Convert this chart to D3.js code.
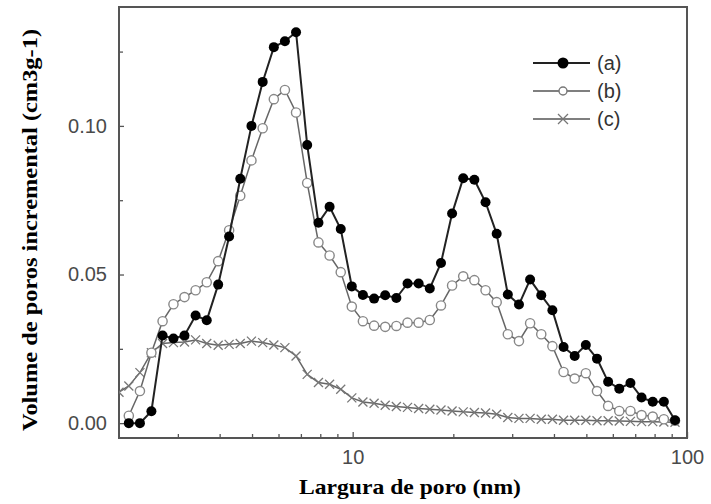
<!DOCTYPE html>
<meta charset="utf-8">
<style>
  body { margin: 0; background: #fff; }
  .tick text { font-family: Arial, "Liberation Sans", sans-serif; fill: #4a4a4a; }
  .tick line { stroke: #555; stroke-width: 1.3; }
</style>
<body>
<script src="https://cdn.jsdelivr.net/npm/d3@7"></script>
<script>

    var width = 711,
        height = 504;

    // pore width (nm), shared by the three samples
    var poreWidth = [2.00, 2.14, 2.31, 2.50, 2.70, 2.91, 3.14, 3.39, 3.66, 3.96, 4.27,
        4.61, 4.98, 5.38, 5.81, 6.27, 6.77, 7.31, 7.90, 8.53, 9.21,
        9.94, 10.73, 11.59, 12.51, 13.51, 14.59, 15.75, 17.01, 18.37, 19.83,
        21.41, 23.12, 24.97, 26.96, 29.11, 31.43, 33.94, 36.65, 39.57, 42.73,
        46.14, 49.82, 53.80, 58.09, 62.72, 67.73, 73.13, 78.97, 85.27, 92.07];

    var seriesA = [null, 0.000, 0.000, 0.004, 0.0295, 0.0285, 0.0295, 0.0362, 0.0346, 0.0466, 0.0628,
        0.0822, 0.100, 0.1148, 0.1265, 0.1285, 0.1315, 0.0936, 0.0674, 0.0728, 0.0653,
        0.046, 0.0431, 0.0419, 0.043, 0.0421, 0.047, 0.047, 0.0453, 0.0539, 0.0705,
        0.0824, 0.0819, 0.0743, 0.0637, 0.0433, 0.0399, 0.0483, 0.043, 0.038, 0.0256,
        0.0226, 0.0263, 0.0217, 0.0139, 0.0116, 0.0135, 0.0086, 0.0072, 0.0072, 0.001];

    var seriesB = [null, 0.0025, 0.0108, 0.0237, 0.0343, 0.040, 0.0424, 0.0447, 0.0474, 0.0545, 0.0649,
        0.0765, 0.0884, 0.0992, 0.109, 0.1121, 0.1045, 0.0808, 0.0608, 0.0564, 0.0508,
        0.0392, 0.0343, 0.0328, 0.0324, 0.0327, 0.0338, 0.0338, 0.0347, 0.0396, 0.0463,
        0.0494, 0.0481, 0.0447, 0.0407, 0.0299, 0.0276, 0.0336, 0.0299, 0.0259, 0.0172,
        0.015, 0.0168, 0.0108, 0.0058, 0.0041, 0.0041, 0.0027, 0.0022, 0.0013, 0.0008];

    var seriesC = [0.0104, 0.0125, 0.017, 0.0237, 0.0268, 0.0271, 0.0273, 0.028, 0.0268, 0.0262, 0.0265,
        0.0268, 0.0276, 0.0271, 0.0263, 0.0254, 0.0226, 0.0164, 0.0137, 0.0131, 0.0114,
        0.0085, 0.0071, 0.0067, 0.006, 0.0056, 0.0053, 0.0049, 0.0047, 0.0044, 0.0041,
        0.0038, 0.0036, 0.0034, 0.003, 0.0019, 0.0016, 0.0016, 0.0013, 0.0013, 0.001,
        0.001, 0.001, 0.0008, 0.0008, 0.0007, 0.0006, 0.0005, 0.0005, 0.0004, 0.0003];

    var seriesNames = ["(a)", "(b)", "(c)"];

    var xMajor = [10, 100],
        xMinor = [3, 4, 5, 6, 7, 8, 9, 20, 30, 40, 50, 60, 70, 80, 90],
        yMajor = [0, 0.05, 0.10],
        yMinor = [0.025, 0.075, 0.125];

    var plot = {left: 119, right: 687, top: 7, bottom: 438};

    var x = d3.scaleLog().domain([2, 100]).range([plot.left, plot.right]);
    var y = d3.scaleLinear().domain([-0.005, 0.14]).range([plot.bottom, plot.top]);

    var svg = d3.select("body").append("svg")
            .attr("width", width)
            .attr("height", height)
            .style("font-family", "Arial, 'Liberation Sans', sans-serif");

    svg.append("clipPath").attr("id", "clip")
        .append("rect")
            .attr("x", plot.left).attr("y", plot.top)
            .attr("width", plot.right - plot.left)
            .attr("height", plot.bottom - plot.top);

    // axes (ticks point inward)
    svg.append("g")
            .attr("transform", "translate(0," + plot.bottom + ")")
            .call(d3.axisBottom(x).tickValues(xMajor).tickFormat(d3.format("d"))
                .tickSizeInner(-6).tickSizeOuter(0).tickPadding(12));
    svg.append("g")
            .attr("transform", "translate(0," + plot.bottom + ")")
            .call(d3.axisBottom(x).tickValues(xMinor).tickFormat("")
                .tickSizeInner(-4).tickSizeOuter(0));

    svg.append("g")
            .attr("transform", "translate(" + plot.left + ",0)")
            .call(d3.axisLeft(y).tickValues(yMajor).tickFormat(d3.format(".2f"))
                .tickSizeInner(-5).tickSizeOuter(0).tickPadding(12));
    svg.append("g")
            .attr("transform", "translate(" + plot.left + ",0)")
            .call(d3.axisLeft(y).tickValues(yMinor).tickFormat("")
                .tickSizeInner(-4).tickSizeOuter(0));

    svg.selectAll(".domain").remove();
    svg.selectAll(".tick text").style("font-size", "20px");

    svg.append("rect")
        .attr("x", plot.left).attr("y", plot.top)
        .attr("width", plot.right - plot.left)
        .attr("height", plot.bottom - plot.top)
        .attr("fill", "none")
        .attr("stroke", "#555")
        .attr("stroke-width", 2);

    // axis titles
    svg.append("text")
        .attr("x", 410).attr("y", 494)
        .attr("text-anchor", "middle")
        .attr("textLength", 222).attr("lengthAdjust", "spacingAndGlyphs")
        .style("font-family", "'Liberation Serif', 'Times New Roman', serif")
        .style("font-weight", "bold").style("font-size", "22px")
        .text("Largura de poro (nm)");

    svg.append("text")
        .attr("transform", "translate(37,230) rotate(-90)")
        .attr("text-anchor", "middle")
        .attr("textLength", 402).attr("lengthAdjust", "spacingAndGlyphs")
        .style("font-family", "'Liberation Serif', 'Times New Roman', serif")
        .style("font-weight", "bold").style("font-size", "22px")
        .text("Volume de poros incremental (cm3g-1)");

    var pts = function(vals) {
        return poreWidth.map(function(w, i) { return {w: w, v: vals[i]}; })
            .filter(function(d) { return d.v != null; });
    };

    var line = d3.line()
            .x(function(d) { return x(d.w); })
            .y(function(d) { return y(d.v); });

    var chart = svg.append("g").attr("clip-path", "url(#clip)");

    function drawCross(sel, s) {
        sel.append("path")
            .attr("d", "M" + (-s) + "," + (-s) + "L" + s + "," + s + "M" + (-s) + "," + s + "L" + s + "," + (-s))
            .attr("stroke", "#777").attr("stroke-width", 1.3).attr("fill", "none");
    }

    // (c) crosses
    var dataC = pts(seriesC);
    chart.append("path").datum(dataC)
        .attr("d", line).attr("fill", "none").attr("stroke", "#666").attr("stroke-width", 1.5);
    chart.selectAll(".mc").data(dataC).enter().append("g")
        .attr("transform", function(d) { return "translate(" + x(d.w) + "," + y(d.v) + ")"; })
        .call(drawCross, 4.5);

    // (b) open circles
    var dataB = pts(seriesB);
    chart.append("path").datum(dataB)
        .attr("d", line).attr("fill", "none").attr("stroke", "#666").attr("stroke-width", 1.5);
    chart.selectAll(".mb").data(dataB).enter().append("circle")
        .attr("cx", function(d) { return x(d.w); })
        .attr("cy", function(d) { return y(d.v); })
        .attr("r", 4.6)
        .attr("fill", "#fff").attr("stroke", "#888").attr("stroke-width", 1.4);

    // (a) filled circles
    var dataA = pts(seriesA);
    chart.append("path").datum(dataA)
        .attr("d", line).attr("fill", "none").attr("stroke", "#222").attr("stroke-width", 2);
    chart.selectAll(".ma").data(dataA).enter().append("circle")
        .attr("cx", function(d) { return x(d.w); })
        .attr("cy", function(d) { return y(d.v); })
        .attr("r", 5)
        .attr("fill", "#000");

    // legend
    var legend = svg.append("g");
    var rowY = [63, 91, 119];
    seriesNames.forEach(function(name, i) {
        var g = legend.append("g").attr("transform", "translate(0," + rowY[i] + ")");
        g.append("line").attr("x1", 533).attr("x2", 590)
            .attr("stroke", i == 0 ? "#222" : "#555").attr("stroke-width", i == 0 ? 2 : 1.5);
        if (i == 0) {
            g.append("circle").attr("cx", 563).attr("r", 5.5).attr("fill", "#000");
        } else if (i == 1) {
            g.append("circle").attr("cx", 563).attr("r", 4).attr("fill", "#fff")
                .attr("stroke", "#777").attr("stroke-width", 1.4);
        } else {
            g.append("g").attr("transform", "translate(563,0)").call(drawCross, 5);
        }
        g.append("text").attr("x", 597).attr("y", 7)
            .style("font-size", "20px").attr("fill", "#333")
            .text(name);
    });

</script>
</body>
